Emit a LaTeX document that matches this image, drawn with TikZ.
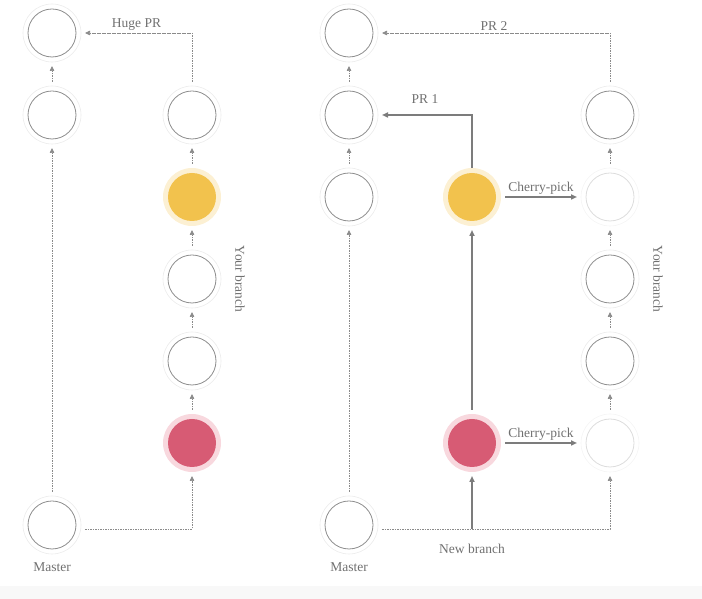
\documentclass[tikz,border=0pt]{standalone}
\usepackage{fontspec}
\setmainfont{Liberation Serif}
\usetikzlibrary{arrows.meta,positioning}
\definecolor{ringgray}{HTML}{EBEBEB}
\definecolor{coregray}{HTML}{8C8C8C}
\definecolor{ghostring}{HTML}{F4F4F4}
\definecolor{ghostcore}{HTML}{DCDCDC}
\definecolor{yellowcore}{HTML}{F2C24D}
\definecolor{yellowhalo}{HTML}{FCF0D3}
\definecolor{redcore}{HTML}{D75B74}
\definecolor{redhalo}{HTML}{F8D8DE}
\definecolor{linegray}{HTML}{8A8A8A}
\definecolor{pickgray}{HTML}{7C7C7C}
\definecolor{textgray}{HTML}{707070}
\definecolor{bandgray}{HTML}{F8F8F8}

\begin{document}
\begin{tikzpicture}[
  x=1pt, y=1pt,
  node distance=24pt,
  commit/.style={circle, minimum size=58pt, inner sep=0pt, outer sep=0pt, draw=ringgray, line width=0.6pt,
    path picture={\draw[coregray, line width=0.8pt] (path picture bounding box.center) circle (24pt);}},
  ghost/.style={circle, minimum size=58pt, inner sep=0pt, outer sep=0pt, draw=ghostring, line width=0.6pt,
    path picture={\draw[ghostcore, line width=0.8pt] (path picture bounding box.center) circle (24pt);}},
  yellow commit/.style={circle, minimum size=58pt, inner sep=0pt, outer sep=0pt, fill=yellowhalo,
    path picture={\fill[yellowcore] (path picture bounding box.center) circle (24pt);}},
  red commit/.style={circle, minimum size=58pt, inner sep=0pt, outer sep=0pt, fill=redhalo,
    path picture={\fill[redcore] (path picture bounding box.center) circle (24pt);}},
  lbl/.style={font=\fontsize{13.5}{16}\selectfont, text=textgray, inner sep=1pt},
  link/.style={draw=linegray, line width=0.7pt, dash pattern=on 1.6pt off 0.9pt,
    -{Triangle[length=5pt,width=4.5pt]}, shorten <=4pt, shorten >=4pt},
  pick/.style={draw=pickgray, line width=1.6pt,
    -{Triangle[length=6pt,width=5pt]}, shorten <=4pt, shorten >=4pt}
]
\fill[bandgray] (0,0) rectangle (702,13);
\useasboundingbox (0,0) rectangle (702,599);

% one huge PR
\node[commit] (m1) at (52,74) {};
\node[commit] (m2) at (52,484) {};
\node[commit, above=of m2] (m3) {};
\node[lbl, below=7pt of m1] (mlab1) {Master};
\node[red commit] (b1) at (192,156) {};
\node[commit, above=of b1] (b2) {};
\node[commit, above=of b2] (b3) {};
\node[yellow commit, above=of b3] (b4) {};
\node[commit, above=of b4] (b5) {};
\node[lbl, rotate=-90] (yb1) at ([xshift=19pt]b3.east) {Your branch};

\draw[link] (m1) -- (m2);
\draw[link] (m2) -- (m3);
\foreach \a/\b in {b1/b2,b2/b3,b3/b4,b4/b5}
  \draw[link] (\a) -- (\b);
\draw[link] (b5.north) |- node[lbl, pos=0.75, above=1pt] (hugepr) {Huge PR} (m3.east);
\draw[link] ([yshift=-4pt]m1.east) -| (b1.south);

% split into small PRs
\node[commit] (n1) at (349,74) {};
\node[commit] (n2) at (349,402) {};
\node[commit, above=of n2] (n3) {};
\node[commit, above=of n3] (n4) {};
\node[lbl, below=7pt of n1] (mlab2) {Master};
\node[red commit] (r1) at (472,156) {};
\node[yellow commit] (y1) at (472,402) {};
\node[ghost] (c1) at (610,156) {};
\node[commit, above=of c1] (c2) {};
\node[commit, above=of c2] (c3) {};
\node[ghost, above=of c3] (c4) {};
\node[commit, above=of c4] (c5) {};
\node[lbl, rotate=-90] (yb2) at ([xshift=19pt]c3.east) {Your branch};
\coordinate (split) at ([yshift=-4pt]r1 |- n1);
\node[lbl, below=14pt of split] (newb) {New branch};

\draw[link] (n1) -- (n2);
\draw[link] (n2) -- (n3);
\draw[link] (n3) -- (n4);
\foreach \a/\b in {c1/c2,c2/c3,c3/c4,c4/c5}
  \draw[link] (\a) -- (\b);
\draw[link] (c5.north) |- node[lbl, pos=0.75, above=1pt] (pr2) {PR 2} (n4.east);
\draw[link] ([yshift=-4pt]n1.east) -| (c1.south);
\draw[pick, shorten <=0pt] (y1.north) |- node[lbl, pos=0.75, above=10pt] (pr1) {PR 1} (n3.east);
\draw[pick, shorten <=0pt] (split) -- (r1);
\draw[pick] (r1) -- (y1);
\draw[pick] (y1) -- node[lbl, above=1pt] (cp1) {Cherry-pick} (c4);
\draw[pick] (r1) -- node[lbl, above=1pt] (cp2) {Cherry-pick} (c1);
\end{tikzpicture}
\end{document}
